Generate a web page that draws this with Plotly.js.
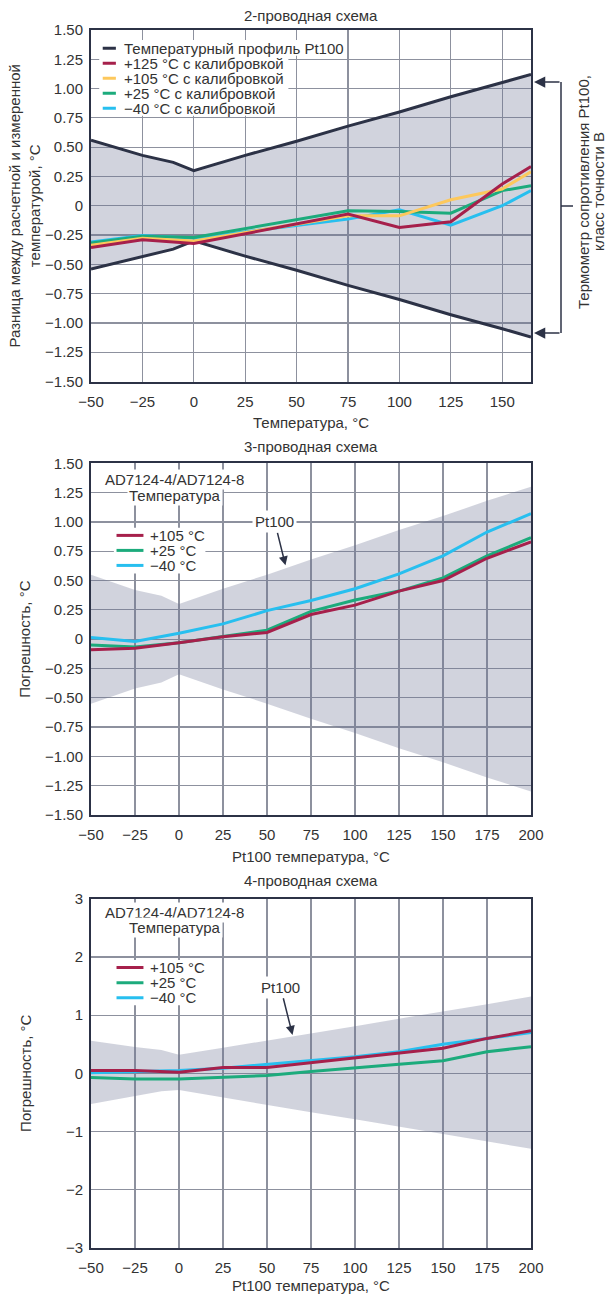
<!DOCTYPE html>
<html><head><meta charset="utf-8">
<script src="https://cdn.plot.ly/plotly-3.0.1.min.js"></script>
<style>html,body{margin:0;padding:0;background:#fff}#chart{width:608px;height:1294px}</style>
</head><body><div id="chart"></div>
<script>
// ---------- Chart 1: 2-проводная схема ----------
const pt100Temp1 = [-50, -25, -10, 0, 25, 50, 75, 100, 125, 150, 164];
const pt100Upper1 = [0.56, 0.43, 0.37, 0.30, 0.43, 0.55, 0.68, 0.80, 0.93, 1.05, 1.12];
const pt100Lower1 = [-0.54, -0.43, -0.37, -0.30, -0.43, -0.55, -0.68, -0.80, -0.93, -1.05, -1.12];
const temps1 = [-50, -25, 0, 75, 100, 125, 150, 164];
const cal125 = [-0.357, -0.29, -0.323, -0.071, -0.186, -0.137, 0.186, 0.334];
const cal105 = [-0.337, -0.277, -0.30, -0.086, -0.086, 0.051, 0.143, 0.29];
const cal25 = [-0.317, -0.26, -0.27, -0.043, -0.049, -0.063, 0.129, 0.171];
const calM40 = [-0.309, -0.254, -0.277, -0.114, -0.034, -0.166, 0.0, 0.129];
const legend1 = ['Температурный профиль Pt100', '+125 °C с калибровкой', '+105 °C с калибровкой', '+25 °C с калибровкой', '−40 °C с калибровкой'];

// ---------- Chart 2: 3-проводная схема ----------
const pt100Temp23 = [-50, -25, -10, 0, 25, 50, 75, 100, 125, 150, 175, 200];
const pt100Upper2 = [0.55, 0.42, 0.37, 0.30, 0.43, 0.55, 0.68, 0.80, 0.93, 1.05, 1.18, 1.30];
const pt100Lower2 = [-0.55, -0.42, -0.37, -0.30, -0.43, -0.55, -0.68, -0.80, -0.93, -1.05, -1.18, -1.30];
const temps23 = [-50, -25, 0, 25, 50, 75, 100, 125, 150, 175, 200];
const err3w105 = [-0.09, -0.077, -0.03, 0.02, 0.057, 0.21, 0.29, 0.41, 0.50, 0.69, 0.83];
const err3w25 = [-0.05, -0.066, -0.03, 0.023, 0.077, 0.237, 0.334, 0.41, 0.523, 0.71, 0.865];
const err3wM40 = [0.014, -0.02, 0.05, 0.13, 0.243, 0.33, 0.43, 0.557, 0.71, 0.914, 1.07];

// ---------- Chart 3: 4-проводная схема ----------
const pt100Upper3 = [0.56, 0.45, 0.40, 0.32, 0.44, 0.56, 0.69, 0.81, 0.94, 1.06, 1.19, 1.32];
const pt100Lower3 = [-0.53, -0.40, -0.31, -0.29, -0.42, -0.54, -0.67, -0.79, -0.92, -1.04, -1.17, -1.30];
const err4w105 = [0.046, 0.046, 0.017, 0.097, 0.10, 0.18, 0.27, 0.34, 0.43, 0.60, 0.73];
const err4w25 = [-0.074, -0.097, -0.097, -0.063, -0.04, 0.03, 0.097, 0.154, 0.217, 0.37, 0.457];
const err4wM40 = [0.01, 0.03, 0.046, 0.086, 0.154, 0.23, 0.286, 0.37, 0.50, 0.60, 0.70];
const legend23 = ['+105 °C', '+25 °C', '−40 °C'];

// ---------- Ticks ----------
const xTicks1 = [-50, -25, 0, 25, 50, 75, 100, 125, 150];
const xTicks23 = [-50, -25, 0, 25, 50, 75, 100, 125, 150, 175, 200];
const yTicks12 = [-1.5, -1.25, -1, -0.75, -0.5, -0.25, 0, 0.25, 0.5, 0.75, 1, 1.25, 1.5];
const yTickText12 = ['−1.50', '−1.25', '−1.00', '−0.75', '−0.50', '−0.25', '0', '0.25', '0.50', '0.75', '1.00', '1.25', '1.50'];
const yTicks3 = [-3, -2, -1, 0, 1, 2, 3];

// ---------- Styles ----------
const FONT = 'Liberation Sans, Arial, Helvetica, sans-serif';
const TXT = '#333333';
const NAVY = '#2c3246';
const RED = '#a6204b';
const YEL = '#fdc85c';
const GRN = '#1cab7c';
const BLU = '#27bfef';
const BAND = 'rgba(105,113,145,0.31)';
const FS = 15;

function line(x, y, color, name, xa, ya, w) {
  return {type: 'scatter', mode: 'lines', x: x, y: y, name: name, xaxis: xa, yaxis: ya,
    line: {color: color, width: w || 3}, showlegend: false, hoverinfo: 'skip'};
}

const traces = [];
// chart 1
traces.push(line(pt100Temp1, pt100Lower1, NAVY, 'Pt100 lower', 'x', 'y', 3));
traces.push(Object.assign(line(pt100Temp1, pt100Upper1, NAVY, legend1[0], 'x', 'y', 3), {fill: 'tonexty', fillcolor: BAND}));
traces.push(line(temps1, calM40, BLU, legend1[4], 'x', 'y'));
traces.push(line(temps1, cal25, GRN, legend1[3], 'x', 'y'));
traces.push(line(temps1, cal105, YEL, legend1[2], 'x', 'y'));
traces.push(line(temps1, cal125, RED, legend1[1], 'x', 'y'));
// chart 2
traces.push(line(pt100Temp23, pt100Lower2, 'rgba(0,0,0,0)', 'Pt100 lower', 'x2', 'y2', 0));
traces.push(Object.assign(line(pt100Temp23, pt100Upper2, 'rgba(0,0,0,0)', 'Pt100', 'x2', 'y2', 0), {fill: 'tonexty', fillcolor: BAND}));
traces.push(line(temps23, err3wM40, BLU, legend23[2], 'x2', 'y2'));
traces.push(line(temps23, err3w25, GRN, legend23[1], 'x2', 'y2'));
traces.push(line(temps23, err3w105, RED, legend23[0], 'x2', 'y2'));
// chart 3
traces.push(line(pt100Temp23, pt100Lower3, 'rgba(0,0,0,0)', 'Pt100 lower', 'x3', 'y3', 0));
traces.push(Object.assign(line(pt100Temp23, pt100Upper3, 'rgba(0,0,0,0)', 'Pt100', 'x3', 'y3', 0), {fill: 'tonexty', fillcolor: BAND}));
traces.push(line(temps23, err4w25, GRN, legend23[1], 'x3', 'y3'));
traces.push(line(temps23, err4wM40, BLU, legend23[2], 'x3', 'y3'));
traces.push(line(temps23, err4w105, RED, legend23[0], 'x3', 'y3'));

function axis(extra) {
  return Object.assign({
    showline: true, mirror: true, linecolor: NAVY, linewidth: 2,
    showgrid: true, gridcolor: '#8d919e', gridwidth: 1.2, zeroline: false,
    ticks: '', tickfont: {family: FONT, size: FS, color: TXT}, fixedrange: true
  }, extra);
}
function xtitle(t) { return {text: t, font: {family: FONT, size: FS, color: TXT}, standoff: 9}; }
function ytitle(t, s) { return {text: t, font: {family: FONT, size: FS, color: TXT}, standoff: s}; }

const H = 1294, L = 91, PW = 440;
const py = p => 1 - p / H;
const px = p => (p - L) / PW;

const annotations = [];
const shapes = [];
function txt(text, x, y, xref, yref, opts) {
  annotations.push(Object.assign({text: text, x: x, y: y, xref: xref, yref: yref, showarrow: false,
    font: {family: FONT, size: FS, color: TXT}}, opts || {}));
}
// subplot titles
txt('2-проводная схема', px(311), py(15), 'paper', 'paper', {yanchor: 'middle'});
txt('3-проводная схема', px(311), py(447), 'paper', 'paper', {yanchor: 'middle'});
txt('4-проводная схема', px(311), py(880), 'paper', 'paper', {yanchor: 'middle'});

// chart 1 legend
const leg1Y = [1.345, 1.217, 1.089, 0.961, 0.833];
const leg1C = [NAVY, RED, YEL, GRN, BLU];
shapes.push({type: 'rect', xref: 'x', yref: 'y', x0: -46, x1: 74, y0: 1.28, y1: 1.415, fillcolor: '#fff', line: {width: 0}, layer: 'above'});
shapes.push({type: 'rect', xref: 'x', yref: 'y', x0: -46, x1: 46, y0: 0.768, y1: 1.29, fillcolor: '#fff', line: {width: 0}, layer: 'above'});
legend1.forEach((t, i) => {
  shapes.push({type: 'line', xref: 'x', yref: 'y', x0: -44.3, x1: -37.9, y0: leg1Y[i], y1: leg1Y[i], line: {color: leg1C[i], width: 3}, layer: 'above'});
  txt(t, -35, leg1Y[i], 'x', 'y', {xanchor: 'left', yanchor: 'middle'});
});

// bracket on right of chart 1
shapes.push({type: 'line', xref: 'paper', yref: 'paper', x0: px(561), x1: px(561), y0: py(82), y1: py(333), line: {color: NAVY, width: 1.5}});
shapes.push({type: 'line', xref: 'paper', yref: 'paper', x0: px(561), x1: px(573), y0: py(206), y1: py(206), line: {color: NAVY, width: 1.5}});
[82, 333].forEach(p => annotations.push({text: '', x: px(534), y: py(p), xref: 'paper', yref: 'paper', showarrow: true,
  ax: 27, ay: 0, axref: 'pixel', ayref: 'pixel', arrowhead: 2, arrowsize: 1.5, arrowwidth: 1.5, arrowcolor: NAVY, standoff: 0}));
txt('Термометр сопротивления Pt100,', px(584), py(192), 'paper', 'paper', {textangle: -90, yanchor: 'middle', xanchor: 'center'});
txt('класс точности B', px(599), py(192), 'paper', 'paper', {textangle: -90, yanchor: 'middle', xanchor: 'center'});

// chart 2 & 3 inner legends/labels
function inner(xa, ya, headY, legY, rectY, pt100Text, pt100Tip) {
  txt('AD7124-4/AD7124-8', -2.5, headY[0], xa, ya, {yanchor: 'middle', bgcolor: '#fff', borderpad: 1});
  txt('Температура', -2.5, headY[1], xa, ya, {yanchor: 'middle', bgcolor: '#fff', borderpad: 1});
  shapes.push({type: 'rect', xref: xa, yref: ya, x0: -37, x1: 15, y0: rectY[0], y1: rectY[1], fillcolor: '#fff', line: {width: 0}, layer: 'above'});
  const cols = [RED, GRN, BLU];
  legend23.forEach((t, i) => {
    shapes.push({type: 'line', xref: xa, yref: ya, x0: -35.5, x1: -20.2, y0: legY[i], y1: legY[i], line: {color: cols[i], width: 3}, layer: 'above'});
    txt(t, -17.5, legY[i], xa, ya, {xanchor: 'left', yanchor: 'middle'});
  });
  annotations.push({text: 'Pt100', x: pt100Tip[0], y: pt100Tip[1], xref: xa, yref: ya, axref: xa, ayref: ya,
    ax: pt100Text[0], ay: pt100Text[1], showarrow: true, arrowhead: 2, arrowsize: 1.2, arrowwidth: 1.5, arrowcolor: NAVY,
    bgcolor: '#fff', borderpad: 2, font: {family: FONT, size: FS, color: TXT}});
}
inner('x2', 'y2', [1.36, 1.225], [0.885, 0.757, 0.629], [0.56, 0.95], [54.4, 1.0], [60.5, 0.63]);
inner('x3', 'y3', [2.77, 2.51], [1.82, 1.56, 1.30], [1.17, 1.95], [57.7, 1.48], [64.5, 0.66]);

const layout = {
  width: 608, height: 1294,
  margin: {l: L, r: 608 - L - PW, t: 0, b: 0},
  paper_bgcolor: '#fff', plot_bgcolor: '#fff',
  showlegend: false,
  font: {family: FONT, size: FS, color: TXT},
  xaxis: axis({anchor: 'y', domain: [0, 1], range: [-50, 164], tickvals: xTicks1, ticklabelstandoff: 5, title: xtitle('Температура, °C')}),
  yaxis: axis({anchor: 'x', domain: [py(381.5), py(30)], range: [-1.5, 1.5], tickvals: yTicks12, ticktext: yTickText12, ticklabelstandoff: 3,
    title: ytitle('Разница между расчетной и измеренной<br>температурой, °C', 1)}),
  xaxis2: axis({anchor: 'y2', domain: [0, 1], range: [-50, 200], tickvals: xTicks23, ticklabelstandoff: 5, title: xtitle('Pt100 температура, °C')}),
  yaxis2: axis({anchor: 'x2', domain: [py(815), py(463.3)], range: [-1.5, 1.5], tickvals: yTicks12, ticktext: yTickText12, ticklabelstandoff: 3,
    title: ytitle('Погрешность, °C', 11)}),
  xaxis3: axis({anchor: 'y3', domain: [0, 1], range: [-50, 200], tickvals: xTicks23, ticklabelstandoff: 5, title: xtitle('Pt100 температура, °C')}),
  yaxis3: axis({anchor: 'x3', domain: [py(1247.5), py(899)], range: [-3, 3], tickvals: yTicks3, ticklabelstandoff: 3,
    title: ytitle('Погрешность, °C', 31)}),
  annotations: annotations,
  shapes: shapes
};

Plotly.newPlot('chart', traces, layout, {displayModeBar: false, staticPlot: true});
</script>
</body></html>
